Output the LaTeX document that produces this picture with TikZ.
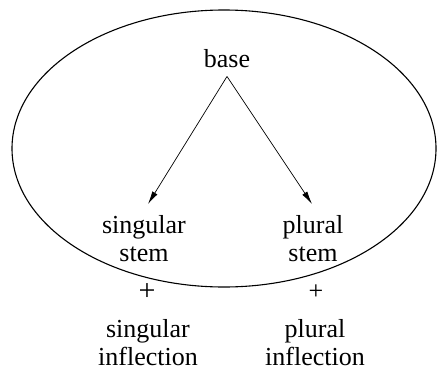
\documentclass[tikz,border=0pt]{standalone}
\usepackage{fontspec}
\setmainfont{Liberation Serif}
\usetikzlibrary{arrows.meta}
\begin{document}
\begin{tikzpicture}[x=1bp,y=1bp,
  lbl/.style={font=\fontsize{26bp}{28bp}\selectfont, align=center, inner sep=0pt},
  arr/.style={line width=0.7bp, -{Latex[length=13bp,width=6bp]}}]
\useasboundingbox (0,0) rectangle (437,370);
\draw[line width=1.1bp] (224,221.5) ellipse [x radius=212, y radius=138.5];
\node[lbl, anchor=base, inner ysep=9bp] (base) at (227,303) {base};
\node[lbl, anchor=north] (sg) at (144,155) {singular\\stem};
\node[lbl, anchor=north] (pl) at (313,155) {plural\\stem};
\node[lbl, font=\fontsize{30bp}{30bp}\selectfont] (p1) at (147,78) {+};
\node[lbl] (p2) at (316,78) {+};
\node[lbl, anchor=north] (sgi) at (148,51) {singular\\inflection};
\node[lbl, anchor=north] (pli) at (315,51) {plural\\inflection};
\draw[arr] (base.south) -- ([shift={(4,11)}]sg.north);
\draw[arr] (base.south) -- ([shift={(-1,11)}]pl.north);
\end{tikzpicture}
\end{document}
